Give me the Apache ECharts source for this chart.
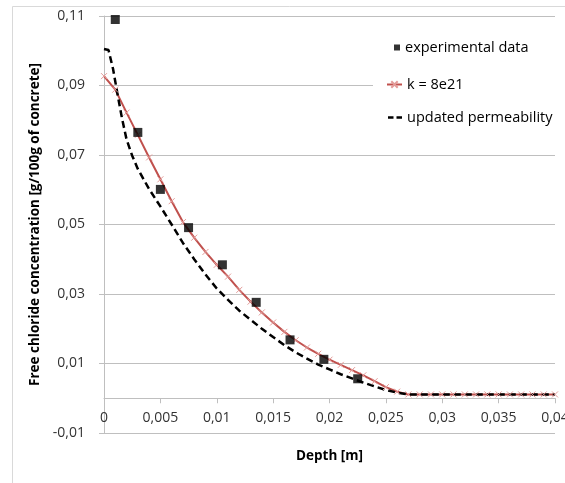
<!DOCTYPE html>
<html>
<head>
<meta charset="utf-8">
<script src="https://cdn.jsdelivr.net/npm/echarts@6/dist/echarts.min.js"></script>
<style>
html,body{margin:0;padding:0;background:#fff;}
#c{width:565px;height:483px;}
</style>
</head>
<body>
<div id="c"></div>
<script>
// ---- data ----
const expDepth = [0.001, 0.003, 0.005, 0.0075, 0.0105, 0.0135, 0.0165, 0.0195, 0.0225];
const expValue = [0.1090, 0.0765, 0.0601, 0.0491, 0.0384, 0.0276, 0.0168, 0.0112, 0.0056];

const kDepth = [0, 0.001, 0.002, 0.003, 0.004, 0.005, 0.006, 0.007, 0.008, 0.009,
  0.010, 0.011, 0.012, 0.013, 0.014, 0.015, 0.016, 0.017, 0.018, 0.019,
  0.020, 0.021, 0.022, 0.023, 0.024, 0.025, 0.026, 0.027, 0.028, 0.029,
  0.030, 0.031, 0.032, 0.033, 0.034, 0.035, 0.036, 0.037, 0.038, 0.039, 0.040];
const kValue = [0.0927, 0.0888, 0.0822, 0.0758, 0.0693, 0.0630, 0.0567, 0.0507, 0.0462, 0.0421,
  0.0384, 0.0350, 0.0312, 0.0278, 0.0247, 0.0218, 0.0191, 0.0167, 0.0146, 0.0128,
  0.0111, 0.0096, 0.0081, 0.0066, 0.0049, 0.0032, 0.0019, 0.0011, 0.0011, 0.0011,
  0.0011, 0.0011, 0.0011, 0.0011, 0.0011, 0.0011, 0.0011, 0.0011, 0.0011, 0.0011, 0.0011];

const updDepth = [0, 0.0004, 0.0008, 0.0012, 0.0016, 0.002, 0.0025, 0.003, 0.004, 0.005,
  0.006, 0.007, 0.008, 0.009, 0.010, 0.011, 0.012, 0.013, 0.014, 0.015,
  0.016, 0.017, 0.018, 0.019, 0.020, 0.021, 0.022, 0.023, 0.024, 0.025,
  0.026, 0.027, 0.030, 0.035, 0.040];
const updValue = [0.1005, 0.1002, 0.0948, 0.0875, 0.0805, 0.0745, 0.0698, 0.0660, 0.0602, 0.0552,
  0.0500, 0.0447, 0.0400, 0.0356, 0.0316, 0.0283, 0.0252, 0.0226, 0.0200, 0.0176,
  0.0153, 0.0132, 0.0114, 0.0097, 0.0083, 0.0069, 0.0057, 0.0045, 0.0034, 0.0024,
  0.0016, 0.0011, 0.0011, 0.0011, 0.0011];

const seriesNames = ['experimental data', 'k = 8e21', 'updated permeability'];
const xTickLabels = ['0', '0,005', '0,01', '0,015', '0,02', '0,025', '0,03', '0,035', '0,04'];
const yTickLabels = ['-0,01', '0,01', '0,03', '0,05', '0,07', '0,09', '0,11'];
const xTitle = 'Depth [m]';
const yTitle = 'Free chloride concentration [g/100g of concrete]';

// ---- chart ----
const FONT = '"Open Sans"';
const chart = echarts.init(document.getElementById('c'), null, {renderer: 'canvas'});
const zip = (a, b) => a.map((v, i) => [v, b[i]]);
const crossPath = 'path://M0,0L10,10M10,0L0,10';
const dashIcon = 'path://M0,0h5.5v2.5h-5.5zM8.5,0h5.5v2.5h-5.5z';
const legendText = {fontFamily: FONT, fontSize: 14.5, color: '#000'};

const GRID_TOP = 16, GRID_BOTTOM = 50, H = 483;
const plotH = H - GRID_TOP - GRID_BOTTOM;
const yMin = -0.01, yMax = 0.11;
const zeroOffset = -plotH * (0 - yMin) / (yMax - yMin);

const option = {
  animation: false,
  backgroundColor: '#fff',
  textStyle: {fontFamily: FONT},
  grid: {left: 104, right: 10, top: GRID_TOP, bottom: GRID_BOTTOM, containLabel: false, outerBoundsMode: 'none'},
  graphic: [
    {type: 'rect', z: -10, shape: {x: 12.5, y: 6.5, width: 700, height: 700},
     style: {fill: 'none', stroke: '#d9d9d9', lineWidth: 1}},
    {type: 'rect', z: 3, shape: {x: 373, y: 26, width: 184, height: 100},
     style: {fill: '#fff', stroke: 'none'}}
  ],
  legend: [
    {data: [seriesNames[0]], left: 389, top: 35, itemWidth: 6, itemHeight: 6,
     textStyle: Object.assign({padding: [0, 0, 0, 0]}, legendText)},
    {data: [seriesNames[1]], left: 381, top: 72, itemWidth: 15, itemHeight: 8,
     textStyle: Object.assign({padding: [0, 0, 0, 0]}, legendText)},
    {data: [{name: seriesNames[2], icon: dashIcon}], left: 383, top: 105, itemWidth: 14, itemHeight: 3,
     textStyle: Object.assign({padding: [0, 0, 0, 0]}, legendText)}
  ],
  xAxis: {
    type: 'value', min: 0, max: 0.04, interval: 0.005,
    offset: zeroOffset,
    name: xTitle, nameLocation: 'middle', nameGap: 51,
    nameTextStyle: {fontFamily: FONT, fontSize: 13.5, fontWeight: 'bold', color: '#000'},
    axisLine: {onZero: false, lineStyle: {color: '#bfbfbf', width: 1}},
    axisTick: {show: true, length: 5, lineStyle: {color: '#bfbfbf'}},
    axisLabel: {margin: 13, fontFamily: FONT, fontSize: 14, color: '#333',
      formatter: (v, i) => xTickLabels[i] !== undefined ? xTickLabels[i] : ''},
    splitLine: {show: false}
  },
  yAxis: {
    type: 'value', min: yMin, max: yMax, interval: 0.02,
    name: yTitle, nameLocation: 'middle', nameGap: 58, nameRotate: 90,
    nameTextStyle: {fontFamily: FONT, fontSize: 13.5, fontWeight: 'bold', color: '#000'},
    axisLine: {show: true, onZero: false, lineStyle: {color: '#bfbfbf', width: 1}},
    axisTick: {show: true, length: 5, lineStyle: {color: '#bfbfbf'}},
    axisLabel: {margin: 19, fontFamily: FONT, fontSize: 14, color: '#333',
      formatter: (v, i) => yTickLabels[i] !== undefined ? yTickLabels[i] : ''},
    splitLine: {show: true, lineStyle: {color: '#bfbfbf', width: 1}}
  },
  series: [
    {
      name: seriesNames[1], type: 'line', data: zip(kDepth, kValue), z: 2,
      symbol: crossPath, symbolSize: 6, showSymbol: true,
      lineStyle: {color: '#c0504d', width: 2},
      itemStyle: {color: 'rgba(0,0,0,0)', borderColor: '#e39c9a', borderWidth: 1}
    },
    {
      name: seriesNames[2], type: 'line', data: zip(updDepth, updValue), z: 2,
      symbol: 'none',
      lineStyle: {color: '#000', width: 2.5, type: [7, 4]},
      itemStyle: {color: '#000'}
    },
    {
      name: seriesNames[0], type: 'scatter', data: zip(expDepth, expValue), z: 3,
      symbol: 'rect', symbolSize: 9,
      itemStyle: {color: '#000'}
    }
  ]
};
chart.setOption(option);
</script>
</body>
</html>
